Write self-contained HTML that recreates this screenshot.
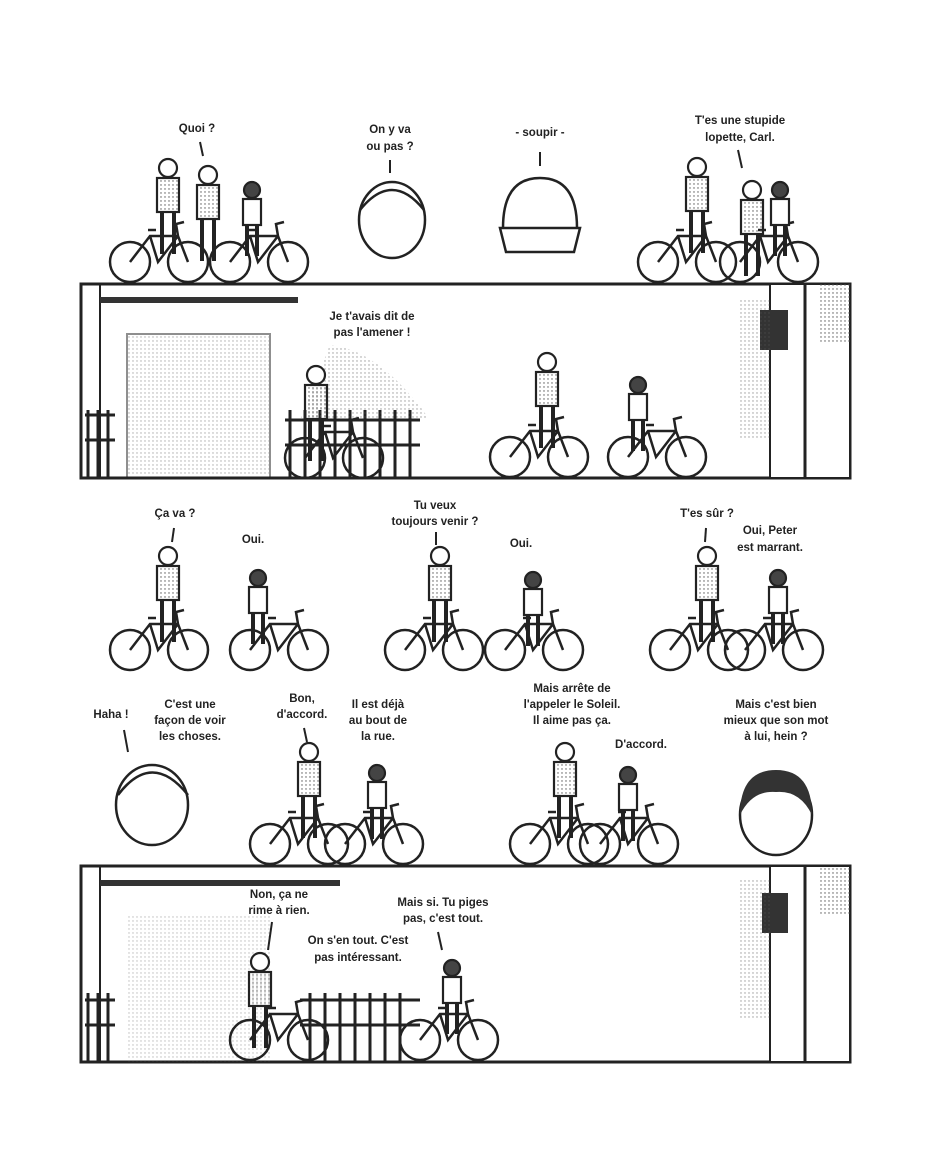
<!DOCTYPE html>
<html><head><meta charset="utf-8"><style>
html,body{margin:0;padding:0;background:#fff}
svg{display:block}
text{font-family:"Liberation Sans",sans-serif;font-size:11.5px;font-weight:bold;fill:#222;text-anchor:middle}
</style></head><body>
<svg width="931" height="1169" viewBox="0 0 931 1169">
<defs>
<pattern id="dots" width="4" height="4" patternUnits="userSpaceOnUse"><circle cx="1" cy="1" r="0.7" fill="#555"/></pattern>
<g id="bike" fill="none" stroke="#222" stroke-width="2.5">
<circle cx="0" cy="0" r="20"/><circle cx="58" cy="0" r="20"/>
<path d="M0 0 L20 -26 L48 -26 L58 0 M20 -26 L28 0 L48 -26 M18 -32 L26 -32 M48 -26 L46 -38 L54 -40"/>
</g>
<g id="kid" stroke="#222" stroke-width="2.2">
<circle cx="0" cy="0" r="9" fill="#fff"/>
<rect x="-11" y="10" width="22" height="34" fill="url(#dots)"/>
<path d="M-6 44 L-6 86 M6 44 L6 86" fill="none" stroke-width="4"/>
</g>
<g id="small" stroke="#222" stroke-width="2.2">
<circle cx="0" cy="0" r="8" fill="#444"/>
<rect x="-9" y="9" width="18" height="26" fill="#fff"/>
<path d="M-5 35 L-5 66 M5 35 L5 66" fill="none" stroke-width="4"/>
</g>
</defs>

<!-- Row 1 -->
<text x="197" y="132">Quoi ?</text><line x1="200" y1="142" x2="203" y2="156" stroke="#222" stroke-width="2"/>
<text x="390" y="133">On y va</text><text x="390" y="150">ou pas ?</text><line x1="390" y1="160" x2="390" y2="173" stroke="#222" stroke-width="2"/>
<text x="540" y="136">- soupir -</text><line x1="540" y1="152" x2="540" y2="166" stroke="#222" stroke-width="2"/>
<text x="740" y="124">T'es une stupide</text><text x="740" y="141">lopette, Carl.</text><line x1="738" y1="150" x2="742" y2="168" stroke="#222" stroke-width="2"/>
<use href="#bike" x="130" y="262"/><use href="#bike" x="230" y="262"/>
<use href="#kid" x="168" y="168"/><use href="#kid" x="208" y="175"/><use href="#small" x="252" y="190"/>
<use href="#bike" x="658" y="262"/><use href="#bike" x="740" y="262"/>
<use href="#kid" x="697" y="167"/><use href="#kid" x="752" y="190"/><use href="#small" x="780" y="190"/>
<ellipse cx="392" cy="220" rx="33" ry="38" fill="#fff" stroke="#222" stroke-width="2.5"/>
<path d="M360 210 Q392 170 424 210" fill="none" stroke="#222" stroke-width="2.5"/>
<path d="M503 228 Q503 178 540 178 Q577 178 577 228 Z M500 228 L580 228 L574 252 L506 252 Z" fill="#fff" stroke="#222" stroke-width="2.5"/>

<!-- Panel 1 -->
<rect x="81" y="284" width="769" height="194" fill="none" stroke="#222" stroke-width="3"/>
<line x1="100" y1="284" x2="100" y2="478" stroke="#222" stroke-width="2"/>
<rect x="100" y="297" width="198" height="6" fill="#333"/>
<rect x="127" y="334" width="143" height="144" fill="url(#dots)" opacity="0.5" stroke="#222" stroke-width="2"/>
<path d="M85 415 L115 415 M85 440 L115 440 M88 410 V478 M98 410 V478 M108 410 V478" stroke="#222" stroke-width="3" fill="none"/>
<path d="M285 420 L420 420 M285 445 L420 445 M290 410 V478 M305 410 V478 M320 410 V478 M335 410 V478 M350 410 V478 M365 410 V478 M380 410 V478 M395 410 V478 M410 410 V478" stroke="#222" stroke-width="3" fill="none"/>
<path d="M330 345 Q380 350 430 420 L300 420 Z" fill="url(#dots)" opacity="0.6"/>
<text x="372" y="320">Je t'avais dit de</text><text x="372" y="336">pas l'amener !</text>
<use href="#bike" x="305" y="458"/><use href="#kid" x="316" y="375"/>
<use href="#bike" x="510" y="457"/><use href="#kid" x="547" y="362"/>
<use href="#bike" x="628" y="457"/><use href="#small" x="638" y="385"/>
<rect x="770" y="284" width="80" height="194" fill="#fff" stroke="#222" stroke-width="2"/>
<line x1="805" y1="284" x2="805" y2="478" stroke="#222" stroke-width="3"/>
<rect x="760" y="310" width="28" height="40" fill="#333"/>
<rect x="820" y="284" width="30" height="60" fill="url(#dots)"/>
<rect x="740" y="300" width="30" height="140" fill="url(#dots)" opacity="0.6"/>

<!-- Row 3 -->
<text x="175" y="517">Ça va ?</text><line x1="174" y1="528" x2="172" y2="542" stroke="#222" stroke-width="2"/>
<text x="253" y="543">Oui.</text>
<use href="#bike" x="130" y="650"/><use href="#kid" x="168" y="556"/>
<use href="#bike" x="250" y="650"/><use href="#small" x="258" y="578"/>
<text x="435" y="509">Tu veux</text><text x="435" y="525">toujours venir ?</text><line x1="436" y1="532" x2="436" y2="545" stroke="#222" stroke-width="2"/>
<text x="521" y="547">Oui.</text>
<use href="#bike" x="405" y="650"/><use href="#kid" x="440" y="556"/>
<use href="#bike" x="505" y="650"/><use href="#small" x="533" y="580"/>
<text x="707" y="517">T'es sûr ?</text><line x1="706" y1="528" x2="705" y2="542" stroke="#222" stroke-width="2"/>
<text x="770" y="534">Oui, Peter</text><text x="770" y="551">est marrant.</text>
<use href="#bike" x="670" y="650"/><use href="#kid" x="707" y="556"/>
<use href="#bike" x="745" y="650"/><use href="#small" x="778" y="578"/>

<!-- Row 4 -->
<text x="111" y="718">Haha !</text><line x1="124" y1="730" x2="128" y2="752" stroke="#222" stroke-width="2"/>
<text x="190" y="708">C'est une</text><text x="190" y="724">façon de voir</text><text x="190" y="740">les choses.</text>
<ellipse cx="152" cy="805" rx="36" ry="40" fill="#fff" stroke="#222" stroke-width="2.5"/>
<path d="M118 795 Q152 750 188 795" fill="none" stroke="#222" stroke-width="2.5"/>
<text x="302" y="702">Bon,</text><text x="302" y="718">d'accord.</text><line x1="304" y1="728" x2="307" y2="742" stroke="#222" stroke-width="2"/>
<text x="378" y="708">Il est déjà</text><text x="378" y="724">au bout de</text><text x="378" y="740">la rue.</text>
<use href="#bike" x="270" y="844"/><use href="#kid" x="309" y="752"/>
<use href="#bike" x="345" y="844"/><use href="#small" x="377" y="773"/>
<text x="572" y="692">Mais arrête de</text><text x="572" y="708">l'appeler le Soleil.</text><text x="572" y="724">Il aime pas ça.</text>
<text x="641" y="748">D'accord.</text>
<use href="#bike" x="530" y="844"/><use href="#kid" x="565" y="752"/>
<use href="#bike" x="600" y="844"/><use href="#small" x="628" y="775"/>
<text x="776" y="708">Mais c'est bien</text><text x="776" y="724">mieux que son mot</text><text x="776" y="740">à lui, hein ?</text>
<ellipse cx="776" cy="815" rx="36" ry="40" fill="#fff" stroke="#222" stroke-width="2.5"/>
<path d="M740 815 Q740 770 776 770 Q812 770 812 815 Q800 790 776 792 Q752 790 740 815 Z" fill="#333"/>

<!-- Panel 2 -->
<rect x="81" y="866" width="769" height="196" fill="none" stroke="#222" stroke-width="3"/>
<line x1="100" y1="866" x2="100" y2="1062" stroke="#222" stroke-width="2"/>
<rect x="100" y="880" width="240" height="6" fill="#333"/>
<rect x="127" y="915" width="143" height="147" fill="url(#dots)" opacity="0.4"/>
<path d="M85 1000 L115 1000 M85 1025 L115 1025 M88 993 V1062 M98 993 V1062 M108 993 V1062" stroke="#222" stroke-width="3" fill="none"/>
<path d="M300 1000 L420 1000 M300 1025 L420 1025 M310 993 V1062 M325 993 V1062 M340 993 V1062 M355 993 V1062 M370 993 V1062 M385 993 V1062 M400 993 V1062" stroke="#222" stroke-width="3" fill="none"/>
<text x="279" y="898">Non, ça ne</text><text x="279" y="914">rime à rien.</text>
<line x1="272" y1="922" x2="268" y2="950" stroke="#222" stroke-width="2"/>
<text x="358" y="944">On s'en tout. C'est</text><text x="358" y="961">pas intéressant.</text>
<text x="443" y="906">Mais si. Tu piges</text><text x="443" y="922">pas, c'est tout.</text>
<line x1="438" y1="932" x2="442" y2="950" stroke="#222" stroke-width="2"/>
<use href="#bike" x="250" y="1040"/><use href="#kid" x="260" y="962"/>
<use href="#bike" x="420" y="1040"/><use href="#small" x="452" y="968"/>
<rect x="770" y="866" width="80" height="196" fill="#fff" stroke="#222" stroke-width="2"/>
<line x1="805" y1="866" x2="805" y2="1062" stroke="#222" stroke-width="3"/>
<rect x="762" y="893" width="26" height="40" fill="#333"/>
<rect x="820" y="866" width="30" height="50" fill="url(#dots)"/>
<rect x="740" y="880" width="30" height="140" fill="url(#dots)" opacity="0.6"/>
</svg>
</body></html>
